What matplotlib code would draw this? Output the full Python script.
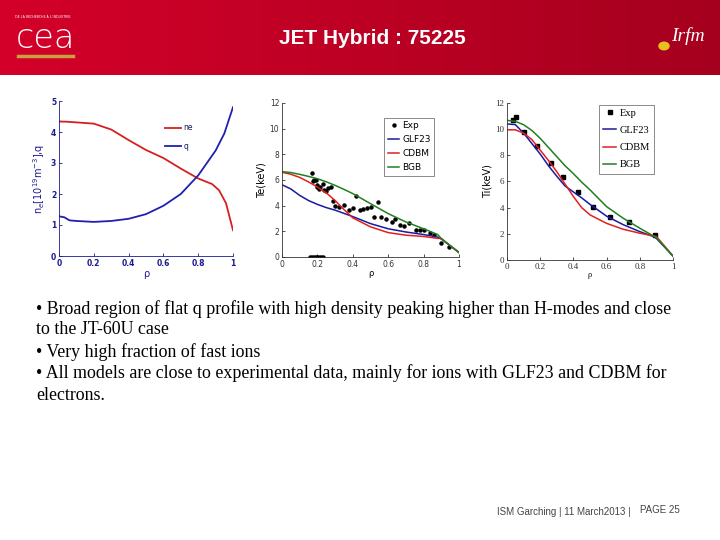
import numpy as np
import matplotlib
matplotlib.use("Agg")
import matplotlib.pyplot as plt

# ---------------- data ----------------
rho_n = [0, 0.05, 0.1, 0.2, 0.3, 0.4, 0.5, 0.6, 0.7, 0.8, 0.88, 0.92, 0.96, 1.0]
ne = [4.34, 4.33, 4.31, 4.27, 4.08, 3.74, 3.42, 3.16, 2.82, 2.5, 2.32, 2.12, 1.7, 0.83]
rho_q = [0, 0.03, 0.06, 0.1, 0.2, 0.3, 0.4, 0.5, 0.6, 0.7, 0.8, 0.9, 0.95, 1.0]
q = [1.28, 1.25, 1.15, 1.13, 1.1, 1.13, 1.2, 1.35, 1.62, 2.0, 2.6, 3.4, 3.95, 4.8]

rho_m = [0, 0.05, 0.1, 0.15, 0.2, 0.25, 0.3, 0.35, 0.4, 0.5, 0.6, 0.7, 0.8, 0.88, 0.9, 0.93, 1.0]
te_glf = [5.63, 5.3, 4.8, 4.4, 4.1, 3.85, 3.65, 3.4, 3.15, 2.6, 2.2, 1.95, 1.75, 1.55, 1.4, 1.1, 0.35]
te_cdbm = [6.6, 6.45, 6.2, 5.85, 5.45, 5.0, 4.4, 3.7, 3.05, 2.35, 1.9, 1.7, 1.6, 1.45, 1.45, 1.1, 0.35]
te_bgb = [6.65, 6.58, 6.44, 6.28, 6.1, 5.86, 5.58, 5.27, 4.94, 4.16, 3.38, 2.73, 2.2, 1.75, 1.43, 1.1, 0.35]

te_exp_rho = [0.17, 0.175, 0.18, 0.19, 0.195, 0.2, 0.21, 0.215, 0.23, 0.24, 0.25, 0.26, 0.275,
              0.29, 0.30, 0.32, 0.35, 0.38, 0.40, 0.42, 0.44, 0.46, 0.48, 0.50, 0.52, 0.54,
              0.56, 0.59, 0.62, 0.64, 0.665, 0.69, 0.72, 0.755, 0.78, 0.805, 0.835, 0.86,
              0.90, 0.943,
              0.16, 0.17, 0.18, 0.19, 0.2, 0.21, 0.22, 0.23]
te_exp = [6.57, 5.92, 5.97, 6.0, 5.58, 5.45, 5.27, 5.45, 5.66, 5.25, 5.14, 5.4, 5.45,
          4.4, 3.97, 3.9, 4.03, 3.64, 3.84, 4.75, 3.64, 3.77, 3.8, 3.9, 3.12, 4.29,
          3.12, 2.99, 2.73, 2.99, 2.47, 2.42, 2.65, 2.13, 2.13, 2.08, 1.87, 1.69,
          1.09, 0.78,
          0, 0, 0, 0, 0, 0, 0, 0]

rho_i = [0, 0.05, 0.1, 0.15, 0.2, 0.25, 0.3, 0.35, 0.4, 0.45, 0.5, 0.6, 0.7, 0.8, 0.88, 0.9, 1.0]
ti_glf = [10.4, 10.35, 9.7, 8.9, 8.1, 7.2, 6.4, 5.65, 5.2, 4.75, 4.25, 3.35, 2.7, 2.17, 1.8, 1.65, 0.3]
ti_cdbm = [9.95, 9.95, 9.7, 9.2, 8.4, 7.6, 6.75, 5.8, 4.85, 4.0, 3.45, 2.8, 2.35, 2.05, 1.85, 1.8, 0.3]
ti_bgb = [10.67, 10.6, 10.34, 9.9, 9.3, 8.6, 7.9, 7.2, 6.6, 5.95, 5.36, 4.08, 3.19, 2.43, 1.85, 1.7, 0.3]
ti_exp_rho = [0.035, 0.055, 0.1, 0.18, 0.265, 0.335, 0.425, 0.52, 0.62, 0.735, 0.89]
ti_exp = [10.67, 10.9, 9.78, 8.7, 7.45, 6.33, 5.18, 4.03, 3.32, 2.88, 1.91]

xticks = [0, 0.2, 0.4, 0.6, 0.8, 1]
xticklabels = ["0", "0.2", "0.4", "0.6", "0.8", "1"]

title = "JET Hybrid : 75225"
bullets = [
    "\u2022 Broad region of flat q profile with high density peaking higher than H-modes and close",
    "to the JT-60U case",
    "\u2022 Very high fraction of fast ions",
    "\u2022 All models are close to experimental data, mainly for ions with GLF23 and CDBM for",
    "electrons.",
]
footer = "ISM Garching | 11 March2013 |"
page = "PAGE 25"

# ---------------- figure ----------------
W, H = 720, 540
fig = plt.figure(figsize=(7.2, 5.4), dpi=100)
fig.patch.set_facecolor("white")

def fx(x):
    return x / W

def fy(y):
    return 1 - y / H

# header band
hax = fig.add_axes([0, fy(75), 1, 75 / H])
grad = np.linspace(0, 1, 256)
c0 = np.array([212, 0, 42]) / 255
c1 = np.array([165, 0, 30]) / 255
img = c0[None, :] * (1 - grad[:, None]) + c1[None, :] * grad[:, None]
img = np.tile(img[None, :, :], (10, 1, 1))
hax.imshow(img, aspect="auto", extent=[0, 1, 0, 1])
hax.set_xlim(0, 1)
hax.set_ylim(0, 1)
hax.axis("off")

fig.text(fx(372), fy(38), title, color="white", fontsize=15, fontweight="bold",
         family="Liberation Sans", ha="center", va="center")
# cea logo
fig.text(fx(45), fy(38), "cea", color="white", fontsize=24, family="DejaVu Sans",
         fontweight="light", ha="center", va="center")
fig.text(fx(15), fy(17), "DE LA RECHERCHE À L'INDUSTRIE", color="white", fontsize=2.3,
         ha="left", va="center")
fig.add_artist(plt.Line2D([fx(18), fx(73)], [fy(56), fy(56)], color="#c8a040", lw=2.5))
# irfm logo
fig.text(fx(688), fy(36), "Irfm", color="white", fontsize=14, family="Liberation Serif",
         style="italic", ha="center", va="center")
fig.add_artist(plt.Circle((fx(664), fy(46)), 0.007, transform=fig.transFigure,
                          color="#e8c020"))

def style_axes(ax, color, family):
    ax.set_xlim(0, 1)
    ax.set_xticks(xticks)
    ax.set_xticklabels(xticklabels)
    ax.tick_params(direction="in", length=2, width=0.6, labelsize=5.5, colors=color,
                   pad=2)
    for lbl in ax.get_xticklabels() + ax.get_yticklabels():
        lbl.set_family(family)
    for s in ["top", "right"]:
        ax.spines[s].set_visible(False)
    for s in ["left", "bottom"]:
        ax.spines[s].set_color(color)
        ax.spines[s].set_linewidth(0.6)

# plot 1
ax1 = fig.add_axes([fx(59), fy(256), (233 - 59) / W, (256 - 101) / H])
ax1.plot(rho_n, ne, color="#d42020", lw=1.3, label="ne")
ax1.plot(rho_q, q, color="#2020b0", lw=1.3, label="q")
ax1.set_ylim(0, 5)
ax1.set_yticks([0, 1, 2, 3, 4, 5])
style_axes(ax1, "#1a1a90", "DejaVu Sans")
for lbl in ax1.get_xticklabels() + ax1.get_yticklabels():
    lbl.set_fontweight("bold")
ax1.set_ylabel(r"n$_e$[10$^{19}$m$^{-3}$],q", color="#1a1a90", fontsize=7, labelpad=3)
ax1.set_xlabel("\u03c1", color="#1a1a90", fontsize=7, labelpad=1)
leg1 = ax1.legend(loc="upper right", bbox_to_anchor=(0.81, 0.9), fontsize=5.5,
                  frameon=False, handlelength=2.0, handletextpad=0.4, labelspacing=1.2)
for t in leg1.get_texts():
    t.set_color("#1a1a60")

# plot 2
ax2 = fig.add_axes([fx(282), fy(257), (459 - 282) / W, (257 - 103) / H])
ax2.plot(te_exp_rho, te_exp, "o", color="black", ms=2.2, label="Exp")
ax2.plot(rho_m, te_glf, color="#1a1aa0", lw=1.1, label="GLF23")
ax2.plot(rho_m, te_cdbm, color="#e02020", lw=1.1, label="CDBM")
ax2.plot(rho_m, te_bgb, color="#208020", lw=1.1, label="BGB")
ax2.set_ylim(0, 12)
ax2.set_yticks([0, 2, 4, 6, 8, 10, 12])
style_axes(ax2, "#333333", "DejaVu Sans")
ax2.set_ylabel("Te(keV)", fontsize=7, labelpad=2)
ax2.set_xlabel("\u03c1", fontsize=6, labelpad=0)
leg2 = ax2.legend(loc="upper right", bbox_to_anchor=(0.86, 0.905), fontsize=6.5,
                  frameon=True, fancybox=False, edgecolor="#555555", handlelength=1.3,
                  handletextpad=0.3, borderpad=0.4, labelspacing=0.55, borderaxespad=0)
leg2.get_frame().set_linewidth(0.6)

# plot 3
ax3 = fig.add_axes([fx(507), fy(260), (673 - 507) / W, (260 - 103) / H])
ax3.plot(ti_exp_rho, ti_exp, "s", color="black", ms=2.6, label="Exp")
ax3.plot(rho_i, ti_glf, color="#1a1aa0", lw=1.1, label="GLF23")
ax3.plot(rho_i, ti_cdbm, color="#e02020", lw=1.1, label="CDBM")
ax3.plot(rho_i, ti_bgb, color="#208020", lw=1.1, label="BGB")
ax3.set_ylim(0, 12)
ax3.set_yticks([0, 2, 4, 6, 8, 10, 12])
style_axes(ax3, "#333333", "Liberation Serif")
ax3.tick_params(labelsize=6.5)
ax3.set_ylabel("Ti(keV)", fontsize=7, labelpad=2, family="DejaVu Sans")
ax3.set_xlabel("\u03c1", fontsize=6, labelpad=0, family="Liberation Serif")
leg3 = ax3.legend(loc="upper right", bbox_to_anchor=(0.885, 0.99), frameon=True,
                  fancybox=False, edgecolor="#555555", handlelength=1.3,
                  handletextpad=0.3, borderpad=0.4, labelspacing=0.75, borderaxespad=0,
                  prop={"family": "Liberation Serif", "size": 7.5})
leg3.get_frame().set_linewidth(0.6)

# bullet text
ys = [309, 330, 352, 373, 395]
for yy, line in zip(ys, bullets):
    fig.text(fx(36), fy(yy), line, fontsize=12.9, family="Liberation Serif",
             color="black", ha="left", va="center")

fig.text(fx(497), fy(512), footer, fontsize=7.0, family="Liberation Sans",
         color="#444444", ha="left", va="center")
fig.text(fx(640), fy(510), page, fontsize=7, family="Liberation Sans",
         color="#444444", ha="left", va="center")

fig.savefig("out.png", dpi=100)
